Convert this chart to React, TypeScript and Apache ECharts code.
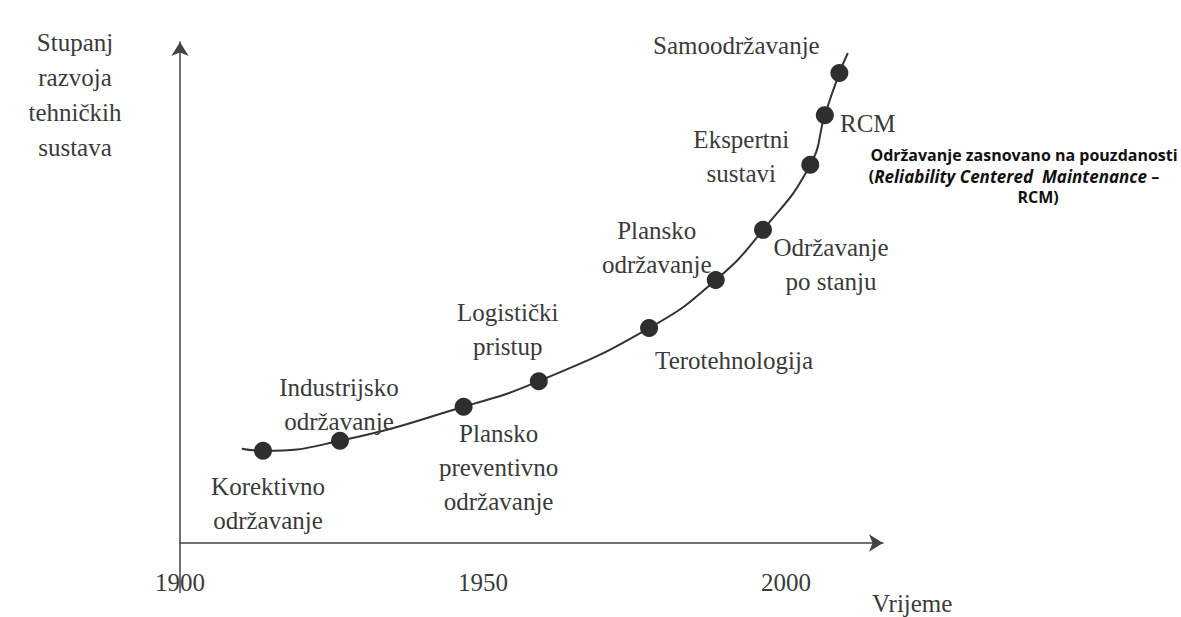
import React, { useEffect, useRef } from "react";
import * as echarts from "echarts";

// Stages of development (points on the curve)
const stageNames = [
  "Korektivno\nodržavanje",
  "Industrijsko\nodržavanje",
  "Plansko\npreventivno\nodržavanje",
  "Logistički\npristup",
  "Terotehnologija",
  "Plansko\nodržavanje",
  "Održavanje\npo stanju",
  "Ekspertni\nsustavi",
  "RCM",
  "Samoodržavanje",
];
const stageYears = [1913.7, 1926.4, 1946.8, 1959.2, 1977.4, 1988.4, 1996.2, 2004.0, 2006.4, 2008.8];
const stageLevels = [18.4, 20.4, 27.2, 32.3, 42.9, 52.5, 62.5, 75.5, 85.4, 93.8];
const curveStart = [1910.2, 18.8];
const curveEnd = [2010.2, 97.8];
const xTickLabels = [1900, 1950, 2000];

// label placement (style only)
const labelOffsets: [number, number][] = [
  [5, 53],
  [-1, -36],
  [35, 61],
  [-31, -52],
  [85, 32],
  [-59, -32],
  [68, 35],
  [-69, -8],
  [43, 8],
  [-103, -28],
];

const SERIF = "Liberation Serif";
const SANS = "Open Sans";
const TXT = "#3a3a3a";

export default function App() {
  const ref = useRef<HTMLDivElement>(null);
  useEffect(() => {
    if (!ref.current) return;
    const chart = echarts.init(ref.current, undefined, { renderer: "svg" });
    const curve = [curveStart, ...stageYears.map((y, i) => [y, stageLevels[i]]), curveEnd];
    const points = stageYears.map((y, i) => ({
      name: stageNames[i],
      value: [y, stageLevels[i]],
      label: {
        show: true,
        formatter: "{b}",
        position: "inside",
        align: "center",
        verticalAlign: "middle",
        offset: labelOffsets[i],
        fontFamily: SERIF,
        fontSize: 25,
        lineHeight: 34,
        color: TXT,
      },
    }));
    chart.setOption({
      animation: false,
      backgroundColor: "#ffffff",
      textStyle: { fontFamily: SERIF },
      grid: { left: 180, right: 298, top: 42, bottom: 74, containLabel: false, outerBoundsMode: "none" },
      xAxis: {
        type: "value",
        min: 1900,
        max: 2016,
        interval: 50,
        name: "Vrijeme",
        nameLocation: "end",
        nameGap: -11,
        nameMoveOverlap: false,
        nameTextStyle: {
          fontFamily: SERIF,
          fontSize: 25,
          color: TXT,
          align: "left",
          verticalAlign: "top",
          padding: [48, 0, 0, 0],
        },
        axisLine: {
          show: true,
          onZero: false,
          symbol: ["none", "arrow"],
          symbolSize: [13, 14],
          lineStyle: { color: "#444", width: 1.5 },
        },
        axisTick: { show: false },
        splitLine: { show: false },
        axisLabel: {
          show: true,
          margin: 27,
          fontFamily: SERIF,
          fontSize: 25,
          color: TXT,
          showMaxLabel: false,
          formatter: (v: number) => (xTickLabels.indexOf(v) >= 0 ? String(v) : ""),
        },
      },
      yAxis: {
        type: "value",
        min: 0,
        max: 100,
        name: "Stupanj\nrazvoja\ntehničkih\nsustava",
        nameLocation: "end",
        nameGap: 17,
        nameMoveOverlap: false,
        nameTextStyle: {
          fontFamily: SERIF,
          fontSize: 25,
          lineHeight: 35,
          color: TXT,
          align: "center",
          verticalAlign: "top",
          padding: [0, 210, 0, 0],
        },
        axisLine: {
          show: true,
          onZero: false,
          symbol: ["none", "arrow"],
          symbolSize: [13, 14],
          lineStyle: { color: "#444", width: 1.5 },
        },
        axisTick: { show: false },
        axisLabel: { show: false },
        splitLine: { show: false },
      },
      series: [
        {
          type: "line",
          data: curve,
          smooth: 0.5,
          showSymbol: false,
          symbol: "none",
          lineStyle: { color: "#333", width: 2 },
          z: 2,
        },
        {
          type: "scatter",
          data: points,
          symbolSize: 18,
          itemStyle: { color: "#2e2e2e", opacity: 1 },
          z: 3,
        },
      ],
    });

    // y-axis line continues a little below the time axis
    const origin = chart.convertToPixel({ gridIndex: 0 }, [1900, 0]) as number[];
    chart.setOption({
      graphic: [
        {
          type: "line",
          shape: { x1: origin[0], y1: origin[1], x2: origin[0], y2: origin[1] + 50 },
          style: { stroke: "#444", lineWidth: 1.5 },
        },
        {
          type: "text",
          x: 1024,
          y: 155,
          style: {
            text: "Održavanje zasnovano na pouzdanosti",
            align: "center",
            verticalAlign: "middle",
            fontFamily: SANS,
            fontWeight: "bold",
            fontSize: 16,
            fill: "#111",
          },
        },
        {
          type: "text",
          x: 1014,
          y: 176,
          style: {
            text: "{n|(}{i|Reliability Centered\u00a0\u00a0Maintenance}{n|\u00a0–}",
            align: "center",
            verticalAlign: "middle",
            rich: {
              n: { fontFamily: SANS, fontWeight: "bold", fontSize: 16, fill: "#111" },
              i: { fontFamily: SANS, fontWeight: "bold", fontStyle: "italic", fontSize: 17, fill: "#111" },
            },
          },
        },
        {
          type: "text",
          x: 1038,
          y: 197,
          style: {
            text: "RCM)",
            align: "center",
            verticalAlign: "middle",
            fontFamily: SANS,
            fontWeight: "bold",
            fontSize: 16,
            fill: "#111",
          },
        },
      ],
    });
    return () => chart.dispose();
  }, []);
  return (
    <div
      ref={ref}
      style={{ position: "fixed", left: 0, top: 0, width: 1181, height: 617, background: "#fff" }}
    />
  );
}
